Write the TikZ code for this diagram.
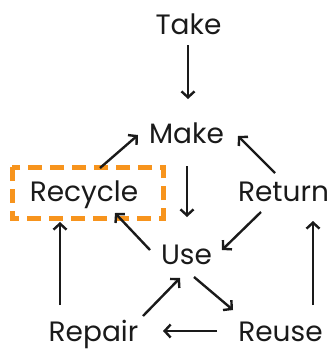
\documentclass[tikz,border=0pt]{standalone}
\usepackage{fontspec}
\setmainfont{Poppins}
\usetikzlibrary{arrows.meta,calc}
\definecolor{ink}{HTML}{1A1A1A}
\definecolor{boxorange}{HTML}{F7941D}
\tikzset{
  lbl/.style={anchor=base,inner sep=0pt,text=ink,font=\fontsize{28}{33}\selectfont},
  arr/.style={draw=ink,line width=2.4pt,-{Straight Barb[length=6pt,width=13pt]}},
  dashbox/.style={draw=boxorange,line width=5pt,dash pattern=on 14pt off 8pt}
}
\begin{document}
\begin{tikzpicture}[x=1pt,y=-1pt]
\useasboundingbox[fill=white] (0,0) rectangle (336,354);
\node[lbl] (take) at (188.5,34) {Take};
\node[lbl] (make) at (186.5,143) {Make};
\node[lbl] (recycle) at (84,201) {Recycle};
\node[lbl] (return) at (283.5,201) {Return};
\node[lbl] (use) at (186.5,264) {Use};
\node[lbl] (repair) at (93.5,341) {Repair};
\node[lbl] (reuse) at (280.5,341) {Reuse};
\draw[dashbox] ($(recycle.base)+(-72,-34)$) rectangle ($(recycle.base)+(79,17)$);
\draw[arr] ($(take.base)+(-0.5,11)$) -- ($(make.base)+(1.5,-44)$);
\draw[arr] ($(recycle.base)+(16,-33)$) -- ($(make.base)+(-48.5,-8)$);
\draw[arr] ($(return.base)+(-8.5,-28)$) -- ($(make.base)+(51.5,-7)$);
\draw[arr] ($(make.base)+(0.5,23)$) -- ($(use.base)+(0.5,-47)$);
\draw[arr] ($(use.base)+(-36.5,-14)$) -- ($(recycle.base)+(31,12)$);
\draw[arr] ($(return.base)+(-22.5,11)$) -- ($(use.base)+(35.5,-14)$);
\draw[arr] ($(use.base)+(7.5,13)$) -- ($(reuse.base)+(-47.5,-31)$);
\draw[arr] ($(repair.base)+(49.5,-25)$) -- ($(use.base)+(-6.5,14)$);
\draw[arr] ($(reuse.base)+(-63.5,-10)$) -- ($(repair.base)+(69.5,-10)$);
\draw[arr] ($(repair.base)+(-33.5,-36)$) -- ($(recycle.base)+(-24,21)$);
\draw[arr] ($(reuse.base)+(32.5,-36)$) -- ($(return.base)+(29.5,20)$);
\end{tikzpicture}
\end{document}
